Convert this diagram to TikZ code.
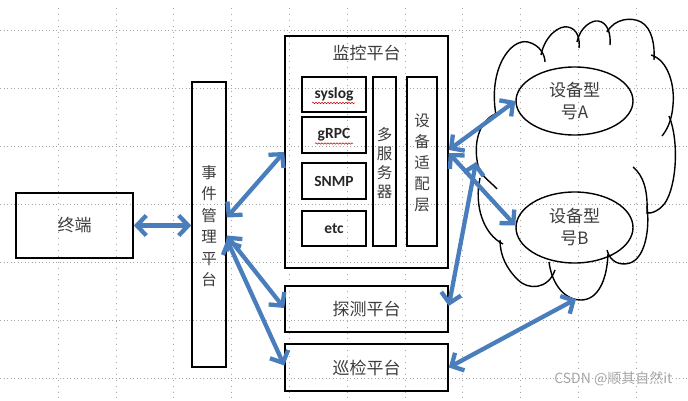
\documentclass[tikz,border=0pt]{standalone}
\usepackage{fontspec}
\setmainfont{Noto Sans CJK SC}
\newfontfamily\enfont{Carlito}
\usetikzlibrary{arrows.meta,calc,decorations.pathmorphing,shapes.geometric}
\definecolor{arrowblue}{RGB}{74,125,187}
\definecolor{txtgray}{RGB}{60,60,60}
\definecolor{gridgray}{RGB}{165,165,165}
\tikzset{
  box/.style={draw=black, line width=1.6pt, minimum width=#1, inner sep=0pt, text=txtgray},
  inbox/.style={draw=black, line width=1.5pt, inner sep=0pt, minimum width=64pt, font=\enfont\bfseries\fontsize{15.5}{18}\selectfont, text=black!85},
  vtext/.style={align=center, font=\fontsize{15.5}{#1}\selectfont, text=txtgray},
  cn/.style={font=\fontsize{17}{20}\selectfont, text=txtgray},
  dev/.style={draw=black, line width=1.4pt, ellipse, inner sep=0pt, align=center, font=\fontsize{17}{22}\selectfont, text=txtgray},
  biarrow/.style={draw=arrowblue, line width=4.3pt,
    {Straight Barb[length=9.5pt,width=20pt]}-{Straight Barb[length=9.5pt,width=20pt]}},
  hgrid/.style={draw=gridgray, line width=0.9pt, dash pattern=on 0.9pt off 2.6pt},
  vgrid/.style={draw=gridgray, line width=0.9pt, dash pattern=on 0.9pt off 5pt},
  cloudline/.style={draw=black, line width=1.4pt},
  spell/.style={draw=red!80!black, line width=0.5pt, decorate, decoration={snake, segment length=3pt, amplitude=0.7pt}}
}
\begin{document}
\begin{tikzpicture}[x=1pt,y=-1pt]
\useasboundingbox (0,0) rectangle (688,401);
% grid
\foreach \yy in {30,88,146,204,262,320,378} {\draw[hgrid] (0,\yy) -- (688,\yy);}
\foreach \xx in {58,116,173,231,289,347,405,462,520,578,636} {\draw[vgrid] (\xx,8) -- (\xx,401);}

% boxes
\node[box=117pt, minimum height=65pt, cn] (term) at (74.5,225.5) {终端};
\node[box=34pt, minimum height=285pt] (evt) at (209,224.5) {};
\node[vtext=21.5] at (209,226) {事\\件\\管\\理\\平\\台};
\node[box=163pt, minimum height=232pt] (mon) at (366.5,152) {};
\node[cn] at (366.5,53) {监控平台};
\node[inbox, minimum height=35pt] (syslog) at (334,94.5) {syslog};
\node[inbox, minimum height=36pt] (grpc) at (334,135) {gRPC};
\node[inbox, minimum height=36pt] (snmp) at (334,181) {SNMP};
\node[inbox, minimum height=35pt] (etc) at (334,228.5) {etc};
\draw[spell] (312,103) -- (355,103);
\draw[spell] (315,143.5) -- (353,143.5);
\node[box=23pt, minimum height=169pt] (multi) at (384.5,161.5) {};
\node[vtext=19] at (384.5,163.5) {多\\服\\务\\器};
\node[box=30pt, minimum height=169pt] (adapt) at (422,161.5) {};
\node[vtext=21] at (422,162.5) {设\\备\\适\\配\\层};
\node[box=163pt, minimum height=46pt, cn] (probe) at (366.5,309) {探测平台};
\node[box=163pt, minimum height=47pt, cn] (insp) at (366.5,367.5) {巡检平台};

% cloud, drawn as overlapping lobes
\draw[cloudline] (496,115) .. controls (488,70) and (510,38) .. (528,42) .. controls (540,45) and (545,55) .. (545,62);
\draw[cloudline] (541,55) .. controls (545,35) and (560,25) .. (568,27) .. controls (578,29) and (580,40) .. (579,48);
\draw[cloudline] (577,42) .. controls (580,27) and (592,20) .. (598,21) .. controls (608,22) and (611,35) .. (610,45);
\draw[cloudline] (607,32) .. controls (615,18) and (632,17) .. (641,22) .. controls (652,28) and (655,45) .. (654,60);
\draw[cloudline] (651,55) .. controls (668,60) and (675,85) .. (673,105) .. controls (672,120) and (667,130) .. (662,136);
\draw[cloudline] (669,116) .. controls (679,140) and (677,185) .. (665,203) .. controls (660,210) and (652,214) .. (646,213);
\draw[cloudline] (633,167) .. controls (643,175) and (648,190) .. (647,212);
\draw[cloudline] (647,206) .. controls (650,230) and (645,258) .. (630,263) .. controls (620,266) and (610,262) .. (607,250);
\draw[cloudline] (608,254) .. controls (607,280) and (598,300) .. (581,300) .. controls (565,300) and (552,285) .. (549,262);
\draw[cloudline] (555,270) .. controls (548,290) and (528,290) .. (518,280) .. controls (506,268) and (500,255) .. (500,240);
\draw[cloudline] (503,244) .. controls (483,234) and (474,205) .. (480,178);
\draw[cloudline] (500,112) .. controls (480,118) and (474,140) .. (477,160) .. controls (479,176) and (488,179) .. (497,189);

\node[dev, minimum width=117pt, minimum height=68pt] (devA) at (574.5,101) {设备型\\号A};
\node[dev, minimum width=117pt, minimum height=71pt] (devB) at (574.5,227.5) {设备型\\号B};
\coordinate (jn) at (476,162);
\coordinate (cloudbot) at (576,299);

% connectors
\draw[biarrow] (term.east) -- (term.east -| evt.west);
\draw[biarrow] ($(evt.east)+(0,-7)$) -- (mon.west);
\draw[biarrow] ($(evt.east)+(0,11)$) -- ($(probe.west)+(0,-1)$);
\draw[biarrow] ($(evt.east)+(0,15)$) -- ($(insp.west)+(0,-2)$);
\draw[biarrow] ($(mon.east)+(0,-2)$) -- (devA.west);
\draw[biarrow] ($(mon.east)+(0,1)$) -- ($(devB.west)+(0,-2)$);
\draw[biarrow] ($(probe.east)+(0,-3)$) -- (jn);
\draw[biarrow] (insp.east) -- (cloudbot);

% watermark
\node[text=gray!70, font=\fontsize{14}{16}\selectfont, anchor=east] at (676,379) {CSDN @顺其自然it};
\end{tikzpicture}
\end{document}
